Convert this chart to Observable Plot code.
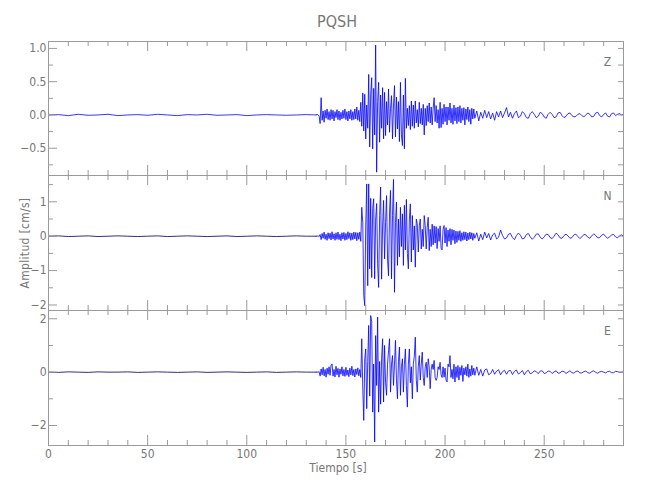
<!DOCTYPE html>
<html>
<head>
<meta charset="utf-8">
<script src="https://cdn.jsdelivr.net/npm/d3@7"></script>
<script src="https://cdn.jsdelivr.net/npm/@observablehq/plot@0.6"></script>
<style>
  html, body { margin: 0; padding: 0; background: #fff; }
  #wrap { position: relative; width: 650px; height: 500px; background: #fff;
          font-family: "DejaVu Sans Condensed", "DejaVu Sans", sans-serif; color: #777; }
  .panel { position: absolute; left: 0; }
  .lbl { position: absolute; white-space: nowrap; color: #777; }
</style>
</head>
<body>
<div id="wrap">
  <div class="lbl" id="title" style="left:0;width:650px;top:12px;text-align:center;font-size:16px;padding-left:24px;box-sizing:border-box;">PQSH</div>
  <div class="lbl" id="xlab" style="left:0;width:650px;top:461px;text-align:center;font-size:12px;padding-left:26px;box-sizing:border-box;">Tiempo [s]</div>
  <div class="lbl" id="ylab" style="left:25px;top:243px;font-size:12px;letter-spacing:0.3px;transform:translate(-50%,-50%) rotate(-90deg);">Amplitud [cm/s]</div>
</div>
<script>
// ---- time base of the sampled traces (seconds) ----
const preT0 = 0,    preDt = 5;     // quiet pre-event part
const mainT0 = 135, mainDt = 0.5;  // arrival and strong motion
const codaT0 = 215, codaDt = 1;    // coda

// ---- Z component (cm/s) ----
const zPre = [0,0.005,-0.01,0.01,-0.005,0,0.01,-0.01,0,0.005,-0.005,0.01,0,-0.01,0.005,0,0.01,-0.005,0,0.005,-0.01,0,0.005,0,-0.005,0,0.005];
const zMain = [
  0,0.01,0,-0.02,-0.13,0.26,-0.08,0.06,-0.11,0.07,
  -0.05,0.09,-0.07,0.05,-0.08,0.08,-0.06,0.07,-0.09,0.05,
  -0.04,0.08,-0.07,0.06,-0.08,0.04,-0.06,0.07,-0.05,0.09,
  -0.07,0.05,-0.09,0.06,-0.06,0.08,-0.08,0.05,-0.07,0.09,
  -0.06,0.12,-0.08,0.07,-0.1,0.19,-0.17,0.33,-0.24,0.31,
  -0.36,0.15,-0.2,0.61,-0.48,0.3,0.56,-0.51,0.4,-0.3,
  1.05,-0.86,0.2,0.49,-0.41,0.3,-0.2,0.41,-0.36,0.34,
  -0.31,0.2,-0.15,0.39,-0.26,0.1,0.29,-0.36,0.15,0.44,
  -0.33,0.27,-0.21,0.2,-0.4,0.49,-0.3,-0.46,0.3,-0.51,
  0.55,-0.2,0.1,-0.16,0.14,-0.22,0.21,-0.17,0.15,-0.2,
  0.21,-0.12,0.08,-0.18,0.19,-0.13,0.1,-0.15,0.16,-0.3,
  0.1,-0.16,0.14,-0.1,0.18,-0.12,0.12,-0.15,0.1,0.26,
  -0.1,0.14,-0.12,0.08,-0.2,0.19,-0.19,0.1,-0.14,0.16,
  -0.1,0.12,-0.15,0.12,-0.08,0.18,-0.12,0.1,-0.14,0.15,
  -0.09,0.11,-0.13,0.12,-0.1,0.14,-0.12,0.1,-0.08,0.11,
  -0.15,0.09,-0.07,0.12,-0.1,0.08,-0.14,0.1,-0.06,0.09
];
const zCoda = [
  -0.05,0.06,-0.09,0.04,-0.05,0.07,-0.04,0.05,-0.06,0.03,
  -0.08,0.05,-0.03,0.06,-0.04,0.03,0.11,-0.03,0.04,-0.05,
  0.02,0.06,-0.04,-0.02,0.05,0.02,-0.04,-0.05,0.02,0.05,
  0.01,-0.04,-0.02,0.04,0.02,-0.03,-0.05,0.01,0.04,0.01,
  -0.04,-0.03,0.03,0.04,-0.01,-0.04,-0.02,0.02,0.03,-0.01,
  -0.03,-0.02,0.01,0.02,-0.01,-0.03,0,0.03,0.01,-0.03,
  -0.02,0.03,0.04,-0.01,-0.03,0.01,0.03,-0.02,-0.03,0.02,
  0.03,-0.01,0.01,0.02,0,0.01
];

// ---- N component (cm/s) ----
const nPre = [0,0.01,-0.01,0,0.01,-0.01,0,0.01,0,-0.01,0,0.01,-0.01,0,0.01,0,-0.01,0,0.01,-0.01,0,0.01,0,-0.01,0,0.01,0];
const nMain = [
  0,0,0.01,-0.01,0.05,-0.1,0.08,-0.06,0.12,-0.09,
  0.06,-0.12,0.1,-0.07,0.09,-0.11,0.13,-0.08,0.07,-0.12,
  0.1,-0.09,0.12,-0.1,0.06,-0.13,0.1,-0.08,0.11,-0.12,
  0.08,-0.1,0.13,-0.07,0.1,-0.12,0.09,-0.1,0.12,-0.08,
  0.11,-0.13,0.1,-0.09,0.12,-0.15,0.84,0.4,-1.73,-2.02,
  0.3,1.52,-1.44,1.52,-0.95,1.1,-1.2,0.8,1.09,-1.24,
  0.5,0.95,-0.8,-1.49,0.6,1.43,-1.25,0.3,1.04,-0.66,
  0.4,1.18,-0.7,-1.15,0.7,1.33,-1.24,0.6,1.65,-1.63,
  0.4,0.99,-0.85,0.5,-0.6,0.84,-0.3,0.65,-0.85,0.9,
  -0.4,1.07,-0.5,-0.95,0.5,0.94,-0.75,0.6,-0.4,0.3,
  -0.9,0.5,0.36,-0.46,0.3,0.5,-0.37,0.2,-0.3,0.6,
  0.3,-0.37,0.25,0.55,-0.42,0.2,-0.3,0.35,-0.25,0.3,
  -0.2,0.28,-0.36,0.22,-0.15,0.3,-0.35,-0.4,0.2,0.31,
  -0.2,0.25,-0.3,0.18,-0.15,0.22,-0.25,0.2,-0.12,0.18,
  -0.22,0.15,-0.18,0.14,-0.12,0.16,-0.15,0.1,-0.12,0.13,
  -0.1,0.12,-0.14,0.09,-0.1,0.12,-0.08,0.1,-0.12,0.08
];
const nCoda = [
  -0.06,0.1,-0.14,0.06,-0.1,0.12,-0.05,0.08,-0.11,0.04,
  0.09,-0.08,-0.03,0.18,0.02,-0.08,-0.05,0.06,0.08,-0.04,
  -0.1,0.02,0.09,0.03,-0.08,-0.06,0.05,0.08,-0.02,-0.09,
  -0.03,0.06,0.07,-0.03,-0.08,-0.02,0.06,0.05,-0.04,-0.07,
  0,0.09,0.04,-0.05,-0.06,0.02,0.06,0.01,-0.06,-0.04,
  0.04,0.06,-0.01,-0.07,-0.02,0.05,0.04,-0.03,-0.06,0.01,
  0.07,0.02,-0.05,-0.04,0.03,0.06,-0.01,-0.06,-0.02,0.04,
  0.05,-0.02,-0.05,0.01,0.04,0
];

// ---- E component (cm/s) ----
const ePre = [0,-0.01,0.01,0,-0.01,0.01,0,0,0.01,-0.01,0,0.01,0,-0.01,0,0.01,-0.01,0,0.01,0,-0.01,0,0.01,-0.01,0,0.01,0];
const eMain = [
  0,0,0,0.02,-0.15,0.12,-0.1,0.18,-0.14,0.1,
  -0.19,0.15,-0.08,0.2,-0.12,0.25,0.31,-0.15,0.1,-0.18,
  0.22,-0.1,0.14,-0.19,0.12,-0.08,0.2,-0.14,0.1,-0.16,
  0.18,-0.12,0.08,-0.17,0.15,-0.1,0.22,-0.13,0.1,-0.18,
  0.12,-0.09,0.16,-0.14,0.1,-0.2,1.25,-0.6,-1.81,0.5,
  0.87,-1.37,0.4,1.75,-0.9,2.12,1.9,-1.5,0.3,-2.62,
  1.37,-0.5,2.06,-1.5,0.4,-1.2,0.5,1.25,-1.12,1.0,
  -0.4,-0.87,0.3,0.8,1.25,-0.75,0.3,0.62,-0.5,0.3,
  1.19,-0.3,-1.0,0.4,0.94,-0.87,0.2,0.5,-0.75,0.3,
  0.87,-0.5,-1.31,0.3,0.87,-0.4,0.2,-1.0,0.3,0.6,
  1.31,-0.3,-0.75,0.2,0.62,-0.3,0.3,0.75,-0.2,-0.5,
  0.2,0.37,-0.2,0.5,0.2,-0.62,0.1,0.3,0.1,0.44,
  -0.2,-0.31,-0.2,0.2,0.1,0.37,-0.1,-0.2,0.2,-0.19,
  0.15,-0.3,-0.37,0.3,0.2,0.62,-0.2,0.1,-0.25,0.3,
  -0.37,0.2,-0.2,0.25,-0.3,0.18,-0.12,0.25,-0.35,0.15,
  -0.1,0.2,-0.15,0.3,-0.2,0.12,-0.15,0.25,-0.1,0.15
];
const eCoda = [
  -0.12,0.2,-0.12,0.1,-0.15,0.08,0.12,-0.1,-0.05,0.1,
  -0.08,0.04,0.09,-0.1,0.02,0.07,-0.08,0.05,0.06,-0.09,
  0.03,0.08,-0.07,-0.02,0.06,-0.1,0.02,0.07,-0.06,-0.03,
  0.05,0.02,-0.06,0.04,0.05,-0.05,-0.03,0.04,0.03,-0.05,
  0.01,0.05,-0.04,-0.03,0.04,0.02,-0.05,0,0.05,-0.02,
  -0.04,0.03,0.04,-0.03,-0.03,0.02,0.04,-0.02,-0.04,0.02,
  0.05,-0.01,-0.04,0.01,0.03,0,-0.03,0.02,0.03,-0.02,
  -0.02,0.03,0.02,-0.01,0,0.01
];

// ---- axes ----
const xDomain = [0, 290];
const xMajor = [0, 50, 100, 150, 200, 250];
const xMinor = [10,20,30,40,60,70,80,90,110,120,130,140,160,170,180,190,210,220,230,240,260,270,280];

const zDomain = [-0.91, 1.104], zMajor = [-0.5, 0, 0.5, 1.0], zMinor = [-0.75, -0.25, 0.25, 0.75];
const nDomain = [-2.16, 1.765], nMajor = [-2, -1, 0, 1],    nMinor = [-1.5, -0.5, 0.5, 1.5];
const eDomain = [-2.75, 2.31],  eMajor = [-2, 0, 2],         eMinor = [-1, 1];
const zFmt = d => d.toFixed(1).replace("-", "\u2212");
const intFmt = d => String(d).replace("-", "\u2212");

function series(pre, main, coda) {
  const a = [];
  pre.forEach((v, i) => a.push({t: preT0 + i * preDt, v, seg: "pre"}));
  a.push({t: mainT0, v: main[0], seg: "pre"});
  main.forEach((v, i) => a.push({t: mainT0 + i * mainDt, v, seg: "main"}));
  coda.forEach((v, i) => a.push({t: codaT0 + i * codaDt, v, seg: "main"}));
  return a;
}

const panels = [
  {name: "Z", data: series(zPre, zMain, zCoda), domain: zDomain, major: zMajor, minor: zMinor, fmt: zFmt, top: 41, h: 134, bottom: false, preColor: "#2020ff"},
  {name: "N", data: series(nPre, nMain, nCoda), domain: nDomain, major: nMajor, minor: nMinor, fmt: intFmt, top: 175, h: 135, bottom: false, preColor: "#1a1a66"},
  {name: "E", data: series(ePre, eMain, eCoda), domain: eDomain, major: eMajor, minor: eMinor, fmt: intFmt, top: 310, h: 135, bottom: true, preColor: "#1a1a66"}
];

const ML = 48, MR = 27, W = 650 - ML - MR;
const axisColor = "#9a9a9a";
const wrap = document.getElementById("wrap");

for (const p of panels) {
  const mt = 10, mb = p.bottom ? 30 : 10;
  const all = [...p.major, ...p.minor].sort((a, b) => a - b);
  const chart = Plot.plot({
    width: 650,
    height: p.h + mt + mb,
    marginLeft: ML, marginRight: MR, marginTop: mt, marginBottom: mb,
    style: {background: "transparent", overflow: "visible", fontSize: "12px",
            fontFamily: "'DejaVu Sans Condensed', 'DejaVu Sans', sans-serif", color: "#777"},
    x: {domain: xDomain, axis: p.bottom ? "bottom" : null, ticks: xMajor, tickSize: 0, tickPadding: 4,
        tickFormat: d => String(d), label: null},
    y: {domain: p.domain, ticks: p.major, tickSize: 0, tickPadding: 2, tickFormat: p.fmt, label: null},
    marks: [
      Plot.line(p.data.filter(d => d.seg === "pre"), {x: "t", y: "v", stroke: p.preColor, strokeWidth: 0.9}),
      Plot.line(p.data.filter(d => d.seg === "main"), {x: "t", y: "v", stroke: "#0000ff", strokeWidth: 0.8}),
      Plot.frame({stroke: axisColor}),
      // x ticks top & bottom, pointing inward
      Plot.tickX(xMajor, {x: d => d, insetBottom: p.h - 10, stroke: axisColor}),
      Plot.tickX(xMinor, {x: d => d, insetBottom: p.h - 5, stroke: axisColor}),
      Plot.tickX(xMajor, {x: d => d, insetTop: p.h - 10, stroke: axisColor}),
      Plot.tickX(xMinor, {x: d => d, insetTop: p.h - 5, stroke: axisColor}),
      // y ticks left (major/minor) and right
      Plot.tickY(p.major, {y: d => d, insetRight: W - 9, stroke: axisColor}),
      Plot.tickY(p.minor, {y: d => d, insetRight: W - 5, stroke: axisColor}),
      Plot.tickY(all, {y: d => d, insetLeft: W - 5, stroke: axisColor}),
      Plot.text([p.name], {frameAnchor: "top-right", dx: -16, dy: 21, textAnchor: "middle",
                           lineAnchor: "middle", fill: "#777", fontSize: 12})
    ]
  });
  const div = document.createElement("div");
  div.className = "panel";
  div.style.top = (p.top - mt) + "px";
  div.appendChild(chart);
  wrap.appendChild(div);
}
</script>
</body>
</html>
